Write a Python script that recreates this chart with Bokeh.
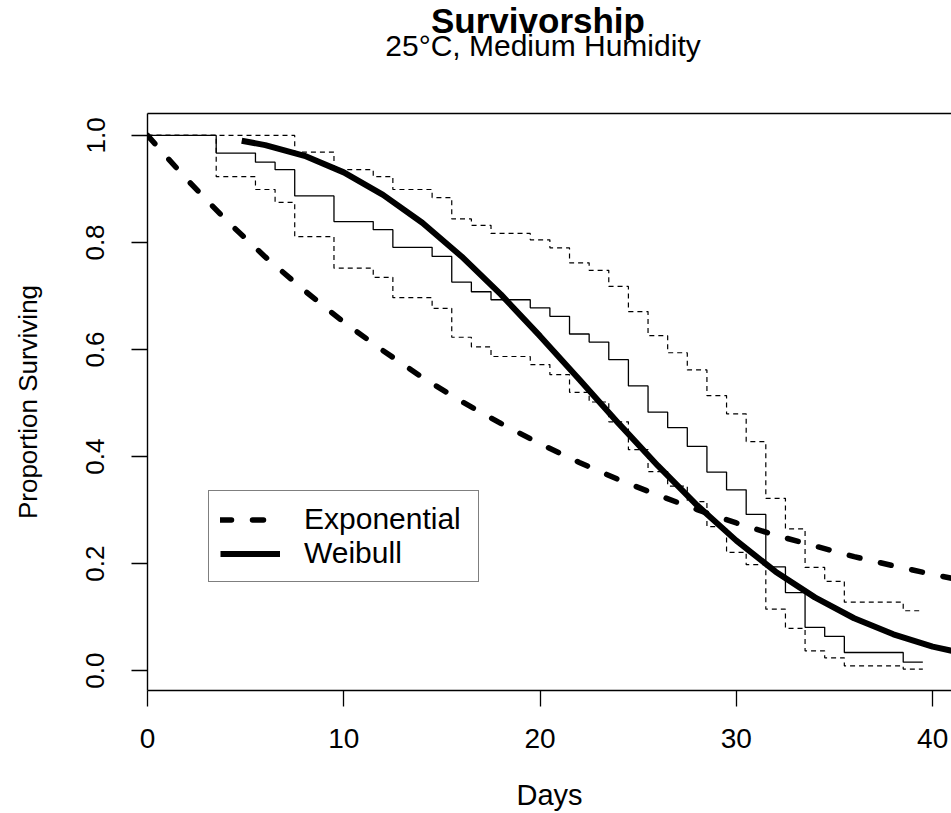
from bokeh.plotting import figure
from bokeh.layouts import column
from bokeh.models import (Range1d, LinearAxis, FixedTicker, Legend, LegendItem,
                          Label, PrintfTickFormatter)
from bokeh.embed import file_html
from bokeh.resources import INLINE

# ---------------- data ----------------
# Kaplan-Meier estimate and its confidence band (step functions)
km_days = [0, 3.5, 5.5, 6.5, 7.5, 9.5, 11.5, 12.5, 14.5, 15.5, 16.5, 17.5,
           19.5, 20.5, 21.5, 22.5, 23.5, 24.5, 25.5, 26.5, 27.5, 28.5, 29.5,
           30.5, 31.5, 32.5, 33.5, 34.5, 35.5, 38.5, 39.5]
km_surv = [1.0, 0.967, 0.950, 0.936, 0.887, 0.839, 0.824, 0.791, 0.774, 0.726,
           0.708, 0.693, 0.678, 0.662, 0.629, 0.614, 0.581, 0.532, 0.483, 0.454,
           0.419, 0.371, 0.338, 0.292, 0.194, 0.146, 0.081, 0.064, 0.034, 0.016,
           0.016]
km_upper = [1.0, 1.0, 1.0, 1.0, 0.969, 0.936, 0.923, 0.899, 0.884, 0.844,
            0.832, 0.817, 0.805, 0.790, 0.762, 0.748, 0.718, 0.671, 0.626, 0.594,
            0.562, 0.514, 0.480, 0.428, 0.322, 0.265, 0.193, 0.167, 0.128, 0.112,
            0.112]
km_lower = [1.0, 0.923, 0.899, 0.875, 0.811, 0.752, 0.735, 0.697, 0.677, 0.623,
            0.605, 0.587, 0.572, 0.553, 0.520, 0.502, 0.465, 0.413, 0.372, 0.345,
            0.316, 0.269, 0.221, 0.198, 0.115, 0.079, 0.037, 0.024, 0.009, 0.003,
            0.003]

# Fitted exponential model curve
exp_days = [0, 2, 4, 6, 8, 10, 12, 14, 16, 18, 20, 22, 24, 26, 28, 30, 32, 34,
            36, 38, 40, 42]
exp_surv = [1.000, 0.918, 0.842, 0.773, 0.710, 0.651, 0.598, 0.548, 0.503, 0.462,
            0.424, 0.389, 0.357, 0.328, 0.301, 0.276, 0.253, 0.233, 0.213, 0.196,
            0.180, 0.165]

# Fitted Weibull model curve
wb_days = [4.8, 6, 8, 10, 12, 14, 16, 18, 20, 22, 24, 26, 28, 30, 32, 34, 36,
           38, 40, 42]
wb_surv = [0.990, 0.982, 0.962, 0.931, 0.889, 0.837, 0.774, 0.703, 0.625, 0.544,
           0.462, 0.383, 0.309, 0.243, 0.185, 0.137, 0.098, 0.068, 0.045, 0.029]

x_ticks = [0, 10, 20, 30, 40]
y_ticks = [0.0, 0.2, 0.4, 0.6, 0.8, 1.0]

title_text = "Survivorship"
subtitle_text = "25°C, Medium Humidity"
x_label = "Days"
y_label = "Proportion Surviving"
legend_labels = ["Exponential", "Weibull"]

FONT = "Liberation Sans"
W = 951
TITLE_H = 111
MAIN_H = 813 - TITLE_H

# ---------------- title strip ----------------
# (its frame is aligned with the main plot's frame by the column layout)
t = figure(width=W, height=TITLE_H, output_backend="svg", toolbar_location=None,
           x_range=Range1d(0, 1), y_range=Range1d(0, 1),
           x_axis_location=None, y_axis_location=None, title=None,
           min_border=0)
t.outline_line_color = None
t.center = []
t.add_layout(Label(x=390.5, y=91.5, x_units="screen", y_units="screen",
                   text=title_text, text_align="center",
                   text_baseline="alphabetic", text_font=FONT,
                   text_font_size="35px", text_font_style="bold",
                   text_color="black"))
t.add_layout(Label(x=395.5, y=66.5, x_units="screen", y_units="screen",
                   text=subtitle_text, text_align="center",
                   text_baseline="alphabetic", text_font=FONT,
                   text_font_size="30px", text_color="black"))

# ---------------- main plot ----------------
p = figure(width=W, height=MAIN_H, output_backend="svg", toolbar_location=None,
           x_range=Range1d(0, 40.96), y_range=Range1d(-0.037, 1.041),
           x_axis_location=None, y_axis_location=None, title=None,
           min_border_left=147, min_border_right=0,
           min_border_top=2, min_border_bottom=MAIN_H - 2 - 577)
p.outline_line_color = None
p.center = []


def style_axis(ax):
    ax.axis_line_color = "black"
    ax.axis_line_width = 1.4
    ax.major_tick_line_color = "black"
    ax.major_tick_line_width = 1.3
    ax.major_tick_in = 0
    ax.major_tick_out = 16
    ax.minor_tick_line_color = None
    ax.major_label_text_font = FONT
    ax.major_label_text_color = "black"
    ax.axis_label_text_font = FONT
    ax.axis_label_text_font_style = "normal"
    ax.axis_label_text_color = "black"


xaxis = LinearAxis(ticker=FixedTicker(ticks=x_ticks), axis_label=x_label)
style_axis(xaxis)
xaxis.major_label_text_font_size = "28px"
xaxis.major_label_standoff = 22
xaxis.axis_label_text_font_size = "29px"
xaxis.axis_label_standoff = 28
p.add_layout(xaxis, "below")

yaxis = LinearAxis(ticker=FixedTicker(ticks=y_ticks), axis_label=y_label,
                   formatter=PrintfTickFormatter(format="%.1f"))
style_axis(yaxis)
yaxis.major_label_orientation = "vertical"
yaxis.major_label_text_font_size = "26px"
yaxis.major_label_standoff = 27
yaxis.axis_label_text_font_size = "26px"
yaxis.axis_label_standoff = 41
p.add_layout(yaxis, "left")

top = LinearAxis(ticker=FixedTicker(ticks=[]))
top.axis_line_color = "black"
top.axis_line_width = 1.4
top.major_tick_line_color = None
top.major_tick_out = 0
top.major_tick_in = 0
top.minor_tick_line_color = None
top.major_label_text_font_size = "0px"
top.major_label_standoff = 0
p.add_layout(top, "above")

# confidence band and KM estimate
p.step(km_days, km_upper, mode="after", line_color="black", line_width=1.2,
       line_dash="5 4")
p.step(km_days, km_lower, mode="after", line_color="black", line_width=1.2,
       line_dash="5 4")
p.step(km_days, km_surv, mode="after", line_color="black", line_width=1.3)

r_exp = p.line(exp_days, exp_surv, line_color="black", line_width=5.5,
               line_dash="11 21", line_cap="round")
r_wb = p.line(wb_days, wb_surv, line_color="black", line_width=6)

legend = Legend(items=[LegendItem(label=legend_labels[0], renderers=[r_exp]),
                       LegendItem(label=legend_labels[1], renderers=[r_wb])],
                location=(61, 108))
legend.border_line_color = "black"
legend.border_line_width = 1.3
legend.background_fill_color = "white"
legend.background_fill_alpha = 1.0
legend.padding = 11
legend.spacing = 0
legend.margin = 0
legend.glyph_width = 60
legend.glyph_height = 29
legend.label_height = 29
legend.label_width = 163
legend.label_standoff = 24
legend.label_text_font = FONT
legend.label_text_font_size = "30px"
legend.label_text_color = "black"
p.add_layout(legend, "center")

open("out.html", "w").write(file_html(column(t, p, spacing=0), INLINE))
